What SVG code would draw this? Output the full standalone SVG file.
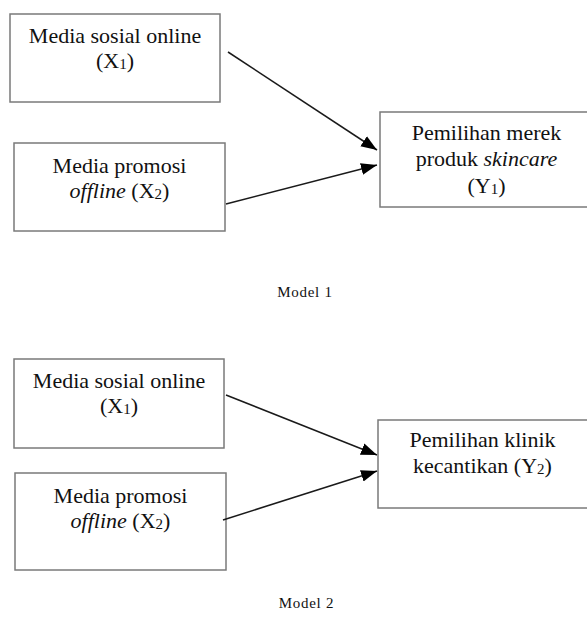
<svg xmlns="http://www.w3.org/2000/svg" width="587" height="619" viewBox="0 0 587 619">
<style>
.box{fill:#fff;stroke:#7a7a7a;stroke-width:1.5}
.t{font-family:"Liberation Serif","Times New Roman",serif;font-size:22px;fill:#111;text-anchor:middle}
.lab{font-family:"Liberation Serif","Times New Roman",serif;font-size:15px;fill:#111;text-anchor:middle;letter-spacing:0.7px}
.sub{font-size:15px}
.conn{stroke:#1a1a1a;stroke-width:1.5;fill:none;marker-end:url(#ah)}
</style>
<defs>
<marker id="ah" markerUnits="userSpaceOnUse" markerWidth="17" markerHeight="14" refX="16" refY="7" orient="auto">
<path d="M0,1 L16,7 L0,13 Z" fill="#000"/>
</marker>
</defs>
<rect width="587" height="619" fill="#fff"/>
<g id="m1-x1">
<rect class="box" x="10" y="14" width="210" height="88"/>
<text class="t" x="115" y="43">Media sosial online</text>
<text class="t" x="115" y="68">(X<tspan class="sub" dy="1">1</tspan><tspan dy="-1">)</tspan></text>
</g>
<g id="m1-x2">
<rect class="box" x="14" y="143" width="211" height="88"/>
<text class="t" x="119.5" y="173">Media promosi</text>
<text class="t" x="119.5" y="198"><tspan font-style="italic">offline</tspan> (X<tspan class="sub" dy="1">2</tspan><tspan dy="-1">)</tspan></text>
</g>
<g id="m1-y1">
<rect class="box" x="380" y="112" width="215" height="95"/>
<text class="t" x="486.5" y="140">Pemilihan merek</text>
<text class="t" x="486.5" y="166">produk <tspan font-style="italic">skincare</tspan></text>
<text class="t" x="486.5" y="193">(Y<tspan class="sub" dy="1">1</tspan><tspan dy="-1">)</tspan></text>
</g>
<g id="m2-x1">
<rect class="box" x="14" y="359" width="210" height="89"/>
<text class="t" x="119" y="388">Media sosial online</text>
<text class="t" x="119" y="413">(X<tspan class="sub" dy="1">1</tspan><tspan dy="-1">)</tspan></text>
</g>
<g id="m2-x2">
<rect class="box" x="15" y="473" width="211" height="97"/>
<text class="t" x="120.5" y="503">Media promosi</text>
<text class="t" x="120.5" y="528"><tspan font-style="italic">offline</tspan> (X<tspan class="sub" dy="1">2</tspan><tspan dy="-1">)</tspan></text>
</g>
<g id="m2-y2">
<rect class="box" x="378" y="420" width="215" height="88"/>
<text class="t" x="482.5" y="447">Pemilihan klinik</text>
<text class="t" x="482.5" y="473">kecantikan (Y<tspan class="sub" dy="1">2</tspan><tspan dy="-1">)</tspan></text>
</g>
<g id="connectors">
<line class="conn" x1="228" y1="52" x2="377" y2="150"/>
<line class="conn" x1="226" y1="204" x2="377" y2="165"/>
<line class="conn" x1="226" y1="395" x2="377" y2="455"/>
<line class="conn" x1="223" y1="520" x2="377" y2="471"/>
</g>
<text class="lab" x="305" y="297">Model 1</text>
<text class="lab" x="306.5" y="608">Model 2</text>
</svg>
